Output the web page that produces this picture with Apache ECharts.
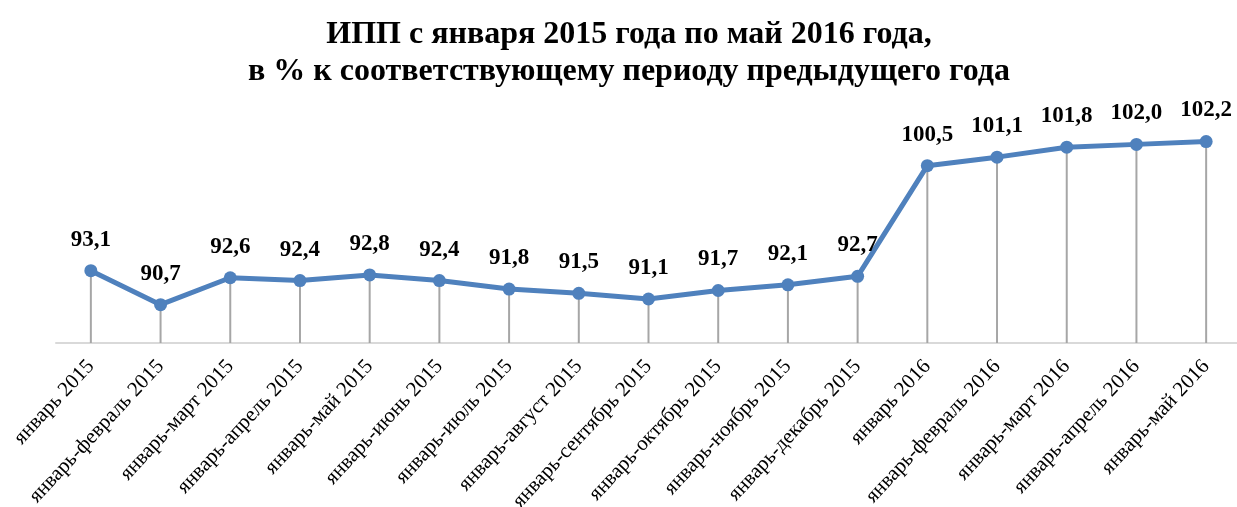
<!DOCTYPE html>
<html>
<head>
<meta charset="utf-8">
<script src="https://cdn.jsdelivr.net/npm/echarts@6/dist/echarts.min.js"></script>
<style>
  html, body { margin: 0; padding: 0; background: #fff; }
  #chart { width: 1237px; height: 507px; }
</style>
</head>
<body>
<div id="chart"></div>
<script>
// periods (cumulative since January)
const categories = [
  'январь 2015', 'январь-февраль 2015', 'январь-март 2015', 'январь-апрель 2015',
  'январь-май 2015', 'январь-июнь 2015', 'январь-июль 2015', 'январь-август 2015',
  'январь-сентябрь 2015', 'январь-октябрь 2015', 'январь-ноябрь 2015', 'январь-декабрь 2015',
  'январь 2016', 'январь-февраль 2016', 'январь-март 2016', 'январь-апрель 2016', 'январь-май 2016'
];
// industrial production index, % of same period previous year
const ippValues = [93.1, 90.7, 92.6, 92.4, 92.8, 92.4, 91.8, 91.5, 91.1, 91.7, 92.1, 92.7, 100.5, 101.1, 101.8, 102.0, 102.2];

const fmt = v => v.toFixed(1).replace('.', ',');
const serif = '"Liberation Serif", "Times New Roman", serif';

const chart = echarts.init(document.getElementById('chart'));

const option = {
  animation: false,
  title: {
    text: 'ИПП с января 2015 года по май 2016 года,\nв % к соответствующему периоду предыдущего года',
    left: 624,
    top: 11,
    textAlign: 'center',
    textStyle: {
      fontFamily: serif,
      fontSize: 32,
      fontWeight: 'bold',
      color: '#000',
      lineHeight: 37
    }
  },
  grid: { left: 56, right: -4, top: 116, bottom: 164, outerBoundsMode: 'none' },
  xAxis: {
    type: 'category',
    data: categories,
    boundaryGap: true,
    axisLine: { lineStyle: { color: '#d9d9d9', width: 2 } },
    axisTick: { show: false },
    axisLabel: {
      interval: 0,
      rotate: 47,
      margin: 20,
      fontFamily: serif,
      fontSize: 21,
      color: '#000'
    }
  },
  yAxis: {
    type: 'value',
    min: 88,
    max: 104,
    show: false,
    splitLine: { show: false }
  },
  series: [
    {
      // drop lines from each point to the axis
      type: 'bar',
      data: ippValues,
      barWidth: 2,
      itemStyle: { color: '#a6a6a6' },
      silent: true,
      z: 1
    },
    {
      type: 'line',
      data: ippValues,
      symbol: 'circle',
      symbolSize: 13,
      lineStyle: { color: '#4f81bd', width: 5 },
      itemStyle: { color: '#4f81bd' },
      z: 3,
      label: {
        show: true,
        position: 'top',
        distance: 13,
        formatter: p => fmt(p.value),
        fontFamily: serif,
        fontSize: 23,
        fontWeight: 'bold',
        color: '#000'
      }
    }
  ]
};

chart.setOption(option);
</script>
</body>
</html>
